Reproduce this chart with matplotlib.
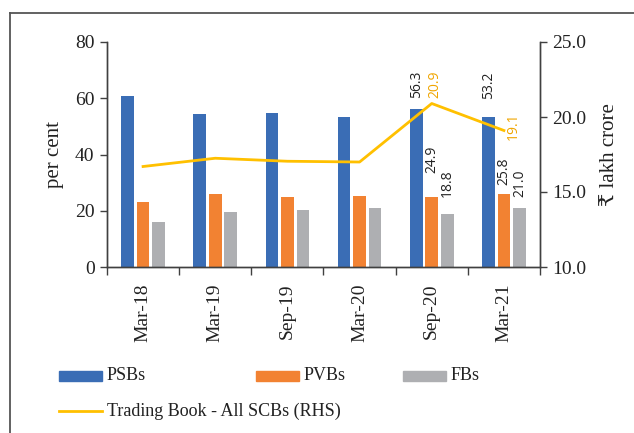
import matplotlib
matplotlib.use("Agg")
import matplotlib.pyplot as plt
import numpy as np
from matplotlib.lines import Line2D
from matplotlib.patches import Rectangle

categories = ["Mar-18", "Mar-19", "Sep-19", "Mar-20", "Sep-20", "Mar-21"]
psbs = [60.8, 54.4, 54.8, 53.3, 56.3, 53.2]
pvbs = [23.1, 26.0, 24.9, 25.3, 24.9, 25.8]
fbs = [16.0, 19.6, 20.1, 21.0, 18.8, 21.0]
trading = [16.7, 17.25, 17.05, 17.0, 20.9, 19.1]

C_BLUE = "#3A6DB5"
C_ORANGE = "#F28232"
C_GRAY = "#AEAFB2"
C_LINE = "#FFC000"
C_LINE_LBL = "#F0A500"
SERIF = ["Liberation Serif", "DejaVu Serif", "DejaVu Sans"]
SANS = ["Open Sans", "DejaVu Sans"]

W, H = 634, 433
fig = plt.figure(figsize=(W / 100, H / 100), dpi=100)
fig.patch.set_facecolor("white")

def fx(px):
    return px / W

def fy(py):
    return 1 - py / H

ax = fig.add_axes([fx(107), fy(267), fx(540) - fx(107), fy(42) - fy(267)])
ax2 = ax.twinx()

x = np.arange(len(categories))
bw = 0.175
step = 0.215
b1 = ax.bar(x - step, psbs, bw, color=C_BLUE, zorder=2)
b2 = ax.bar(x, pvbs, bw, color=C_ORANGE, zorder=2)
b3 = ax.bar(x + step, fbs, bw, color=C_GRAY, zorder=2)
ax2.plot(x, trading, color=C_LINE, lw=2.0, zorder=3)

ax.set_xlim(-0.5, len(categories) - 0.5)
ax.set_ylim(0, 80)
ax2.set_ylim(10, 25)
ax.set_yticks([0, 20, 40, 60, 80])
ax2.set_yticks([10, 15, 20, 25])
ax2.set_yticklabels([f"{v:.1f}" for v in [10, 15, 20, 25]])
ax.set_xticks(x)
ax.set_xticklabels(categories, rotation=90)
ax.set_xticks(np.arange(len(categories) + 1) - 0.5, minor=True)
ax.tick_params(axis="x", which="major", length=0, pad=12)
ax.tick_params(axis="x", which="minor", length=6, width=1.0, direction="out", color="#404040")
ax.tick_params(axis="y", length=5, width=1.0, color="#404040", pad=4)
ax2.tick_params(axis="y", length=5, width=1.0, color="#404040", pad=4)

for a in (ax, ax2):
    for s in ["top"]:
        a.spines[s].set_visible(False)
    for s in ["left", "right", "bottom"]:
        a.spines[s].set_color("#404040")
        a.spines[s].set_linewidth(1.0)
    for lbl in a.get_xticklabels() + a.get_yticklabels():
        lbl.set_fontfamily(SERIF)
        lbl.set_fontsize(14)
        lbl.set_color("#222222")

ax.set_ylabel("per cent", family=SERIF, fontsize=15, color="#222222", labelpad=8)
ax2.set_ylabel("₹ lakh crore", family=SERIF, fontsize=15, color="#222222", labelpad=10)

# data labels for last two periods
lab_kw = dict(rotation=90, ha="center", va="bottom", family=SANS, fontsize=10,
              color="#222222", textcoords="offset points")
offs = {4: (8, 17, 12), 5: (13, 7, 8)}
for i, (o1, o2, o3) in offs.items():
    ax.annotate(f"{psbs[i]:.1f}", (x[i] - step, psbs[i]), xytext=(0, o1), **lab_kw)
    ax.annotate(f"{pvbs[i]:.1f}", (x[i], pvbs[i]), xytext=(0, o2), **lab_kw)
    ax.annotate(f"{fbs[i]:.1f}", (x[i] + step, fbs[i]), xytext=(0, o3), **lab_kw)
ax2.annotate(f"{trading[4]:.1f}", (x[4], trading[4]), xytext=(2, 4), rotation=90,
             ha="center", va="bottom", family=SANS, fontsize=10, color=C_LINE_LBL,
             textcoords="offset points")
ax2.annotate(f"{trading[5]:.1f}", (x[5], trading[5]), xytext=(7, 3), rotation=90,
             ha="center", va="center", family=SANS, fontsize=10, color=C_LINE_LBL,
             textcoords="offset points")

# manual legend
leg_items = [
    ("PSBs", C_BLUE, 59, 376),
    ("PVBs", C_ORANGE, 256, 376),
    ("FBs", C_GRAY, 403, 376),
]
for name, col, px, py in leg_items:
    fig.patches.append(Rectangle((fx(px), fy(py + 5)), fx(43), 10 / H, color=col,
                                 transform=fig.transFigure, figure=fig))
    fig.text(fx(px + 48), fy(py), name, family=SERIF, fontsize=13, va="center",
             ha="left", color="#222222")
fig.lines.append(Line2D([fx(59), fx(102)], [fy(411), fy(411)], color=C_LINE, lw=2.0,
                        transform=fig.transFigure, figure=fig))
fig.text(fx(107), fy(411), "Trading Book - All SCBs (RHS)", family=SERIF, fontsize=13,
         va="center", ha="left", color="#222222")

# outer frame (cropped box)
fig.lines.append(Line2D([fx(10), 1.0], [fy(13), fy(13)], color="#555555", lw=1.3,
                        transform=fig.transFigure, figure=fig))
fig.lines.append(Line2D([fx(10), fx(10)], [fy(13), 0.0], color="#555555", lw=1.3,
                        transform=fig.transFigure, figure=fig))

fig.savefig("out.png", dpi=100, facecolor="white")
